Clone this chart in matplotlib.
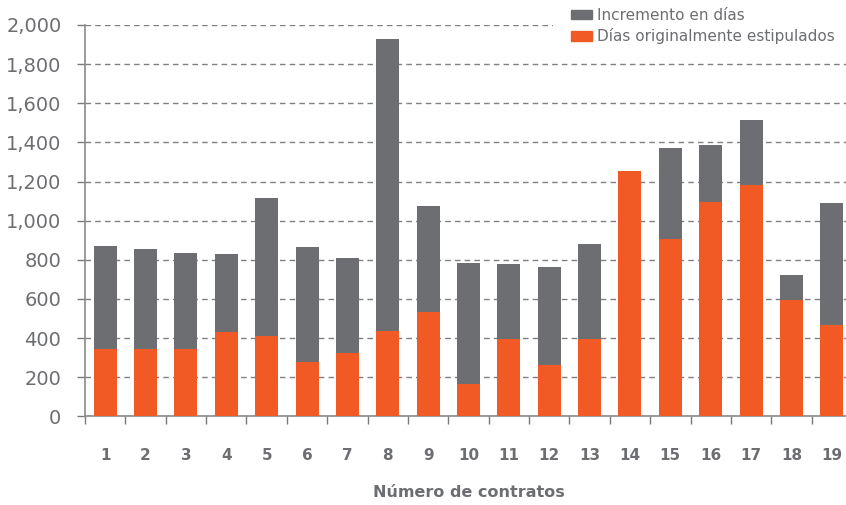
import matplotlib
matplotlib.use("Agg")
import matplotlib.pyplot as plt
import numpy as np
from matplotlib.patches import Patch, Rectangle

# data
contratos = [str(i) for i in range(1, 20)]
dias_originales = [345, 345, 345, 430, 410, 280, 325, 435, 535, 165,
                   395, 260, 395, 1255, 905, 1095, 1180, 595, 465]
total_dias = [870, 855, 835, 830, 1115, 865, 810, 1930, 1075, 785,
              780, 765, 880, 1255, 1370, 1385, 1515, 720, 1090]
incremento = [t - o for t, o in zip(total_dias, dias_originales)]

GRAY = "#6d6e71"
ORANGE = "#f15a24"
TEXT = "#6d6e71"

plt.rcParams["font.family"] = ["DejaVu Sans"]

fig = plt.figure(figsize=(8.46, 5.05), dpi=100)
ax = fig.add_axes([85 / 846, 88.7 / 505, 767 / 846, 391.3 / 505])

x = np.arange(len(contratos))
ax.bar(x, dias_originales, width=0.57, color=ORANGE, zorder=3)
ax.bar(x, incremento, bottom=dias_originales, width=0.57, color=GRAY, zorder=3)

ax.set_xlim(-0.5, len(contratos) - 0.5)
ax.set_ylim(0, 2000)
ax.set_yticks(np.arange(0, 2001, 200))
ax.set_yticklabels([f"{v:,}" for v in range(0, 2001, 200)])
ax.tick_params(axis="y", labelsize=14, colors="#7a7a7a", labelcolor=TEXT,
               length=6, width=1, pad=11)

ax.set_xticks(np.arange(-0.5, len(contratos), 1.0))
ax.set_xticklabels([])
ax.set_xticks(x, minor=True)
ax.set_xticklabels(contratos, minor=True, fontweight="bold", fontsize=11)
ax.tick_params(axis="x", which="major", length=6, width=1, colors="#7a7a7a", direction="out")
ax.tick_params(axis="x", which="minor", length=0, pad=23, labelcolor=TEXT)

ax.yaxis.grid(True, linestyle=(0, (4, 3)), color="#808080", linewidth=1, zorder=0)
for side in ["top", "right"]:
    ax.spines[side].set_visible(False)
for side in ["left", "bottom"]:
    ax.spines[side].set_color("#8a8a8a")
    ax.spines[side].set_linewidth(1.2)

ax.set_xlabel("Número de contratos", fontsize=11.5, fontweight="bold",
              color=TEXT, labelpad=16)

# white area behind the legend hides the top gridline there
fig.patches.append(Rectangle((553 / 846, 1 - 32 / 505), 1, 32 / 505,
                             transform=fig.transFigure, facecolor="white",
                             edgecolor="none", zorder=2))

handles = [Patch(color=GRAY, label="Incremento en días"),
           Patch(color=ORANGE, label="Días originalmente estipulados")]
leg = fig.legend(handles=handles, loc="upper left",
                 bbox_to_anchor=(568 / 846, 1 - 5 / 505), frameon=False,
                 fontsize=11, handlelength=1.4, handleheight=0.55,
                 handletextpad=0.3, labelspacing=0.35, borderpad=0.2,
                 borderaxespad=0)
leg.set_zorder(5)
for t in leg.get_texts():
    t.set_color(TEXT)

fig.savefig("out.png", dpi=100)
